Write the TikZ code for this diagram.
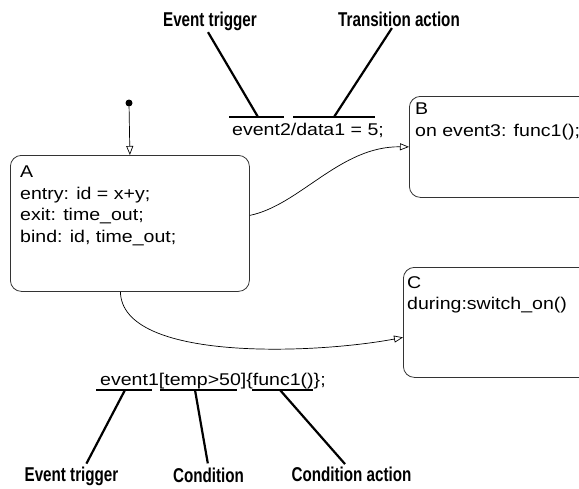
\documentclass[tikz,border=0pt]{standalone}
\usepackage{fontspec}
\usetikzlibrary{positioning, calc, arrows.meta}
\setmainfont{Liberation Sans}
\newfontfamily\stateFont[FakeStretch=1.15]{Liberation Sans}
\newfontfamily\calloutFont[FakeStretch=0.76]{Liberation Sans}
\definecolor{Ink}{HTML}{000000}
\definecolor{Frame}{HTML}{333333}
\tikzset{
    state/.style={rectangle, draw=Frame, line width=0.8pt, rounded corners=11pt, anchor=north west, inner sep=0pt},
    statetext/.style={anchor=north west, inner sep=0pt, align=left, text=Ink, font=\stateFont\fontsize{17}{21.5}\selectfont},
    labeltext/.style={anchor=base west, inner sep=0pt, text=Ink, font=\stateFont\fontsize{17}{20}\selectfont},
    callout/.style={anchor=base, inner sep=0pt, text=Ink, font=\calloutFont\bfseries\fontsize{20}{22}\selectfont},
    transition/.style={-{Triangle[open, length=9pt, width=7pt]}, line width=0.7pt, draw=Ink},
    leader/.style={line width=2.2pt, draw=Ink},
    underbar/.style={line width=2.2pt, draw=Ink},
}
\begin{document}
\begin{tikzpicture}[x=1pt, y=-1pt]
    \useasboundingbox (0,0) rectangle (579,488);
    \clip (0,0) rectangle (579,488);

    % --- States ---
    \node[state, minimum width=239pt, minimum height=136pt] (A) at (10,155) {};
    \node[statetext] (Atext) at ([xshift=10pt, yshift=-11pt]A.north west)
        {A\\entry: id = x+y;\\exit: time\_out;\\bind: id, time\_out;};

    \node[state, minimum width=181pt, minimum height=101pt] (B) at (409,96) {};
    \node[statetext] (Btext) at ([xshift=6pt, yshift=-7pt]B.north west)
        {B\\on event3: func1();};

    \node[state, minimum width=187pt, minimum height=110pt] (C) at (403,267) {};
    \node[statetext] (Ctext) at ([xshift=4pt, yshift=-9pt]C.north west)
        {C\\during:switch\_on()};

    % --- Default transition ---
    \node[circle, fill=Ink, inner sep=0pt, minimum size=7pt] (init) at (129,103) {};
    \draw[transition] (init) -- (A.north);

    % --- Transitions ---
    \draw[transition] ([yshift=8pt]A.east) .. controls (300,205) and (340,146) .. (B.west);
    \draw[transition] ([xshift=-9.5pt]A.south) .. controls (122,362) and (315,354) .. ([yshift=-15pt]C.west);

    % --- Label A -> B ---
    \node[labeltext] (lblAB) at (232,135) {event2/data1 = 5;};
    \draw[underbar] (229,117) -- (284,117);
    \draw[underbar] (293,117) -- (375,117);
    \coordinate (trigTop) at (258,117);
    \coordinate (actTop) at (334,117);

    \node[callout] (trigTopLbl) at (210,26) {Event trigger};
    \node[callout] (actTopLbl) at (399,26) {Transition action};
    \draw[leader, shorten <=2pt] ([xshift=-3pt]trigTopLbl.south) -- (trigTop);
    \draw[leader, shorten <=2pt] ([xshift=-6pt]actTopLbl.south) -- (actTop);

    % --- Label A -> C ---
    \node[labeltext] (lblAC) at (100,385) {event1[temp>50]\{func1()\};};
    \draw[underbar] (96,390) -- (152,390);
    \draw[underbar] (160,390) -- (237,390);
    \draw[underbar] (252,390) -- (313,390);
    \coordinate (trigBot) at (125,390);
    \coordinate (condBot) at (195,390);
    \coordinate (condActBot) at (280,390);

    \node[callout] (trigBotLbl) at (71.5,481) {Event trigger};
    \node[callout] (condLbl) at (208.5,482) {Condition};
    \node[callout] (condActLbl) at (351.5,481) {Condition action};
    \draw[leader, shorten >=3pt] (trigBot) -- ([xshift=13.5pt]trigBotLbl.north);
    \draw[leader, shorten >=4pt] (condBot) -- (condLbl.north);
    \draw[leader, shorten >=3pt] (condActBot) -- ([xshift=-4.5pt]condActLbl.north);
\end{tikzpicture}
\end{document}
